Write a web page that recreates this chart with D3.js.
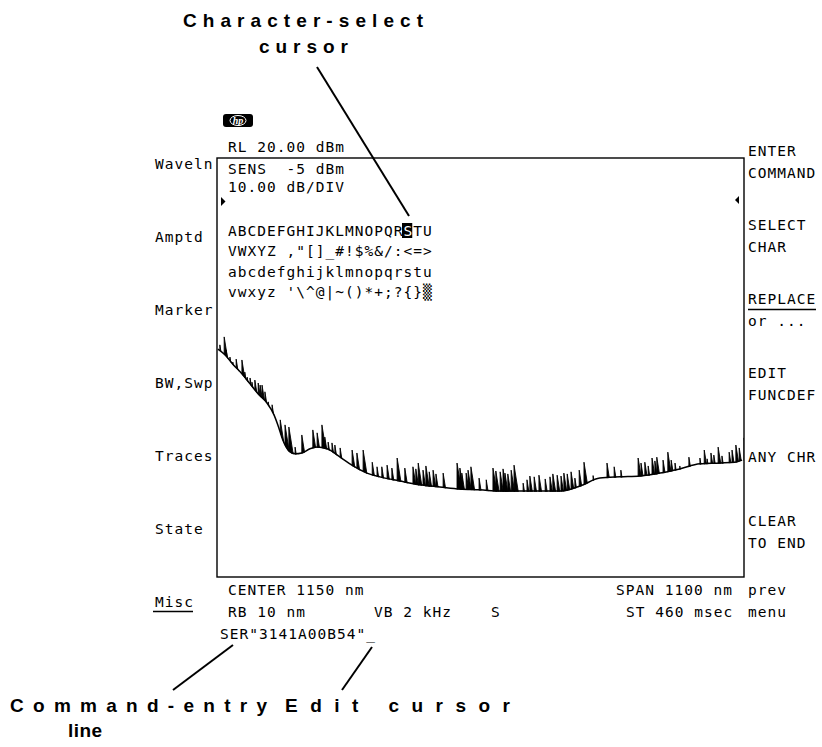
<!DOCTYPE html>
<html><head><meta charset="utf-8">
<script src="https://cdn.jsdelivr.net/npm/d3@7"></script>
<style>html,body{margin:0;padding:0;background:#fff;} svg{display:block;}</style>
</head><body>
<svg id="chart" width="822" height="747"></svg>
<script>
// ---------------- data ----------------
const headerLines = ["RL 20.00 dBm", "SENS  -5 dBm", "10.00 dB/DIV"];
const charRows = ["ABCDEFGHIJKLMNOPQRSTU", "VWXYZ ,\"[]_#!$%&/:<=>", "abcdefghijklmnopqrstu", "vwxyz '\\^@|~()*+;?{}\u2592"];
const selectedRow = 0, selectedCol = 18;
const leftSoftkeys = ["Waveln", "Amptd", "Marker", "BW,Swp", "Traces", "State", "Misc"];
const rightSoftkeys = [["ENTER", "COMMAND"], ["SELECT", "CHAR"], ["REPLACE", "or ..."], ["EDIT", "FUNCDEF"], ["ANY CHR"], ["CLEAR", "TO END"], ["prev", "menu"]];
const footerCenter = "CENTER 1150 nm";
const footerSpan = "SPAN 1100 nm";
const footerRB = "RB 10 nm";
const footerVB = "VB 2 kHz";
const footerS = "S";
const footerST = "ST 460 msec";
const commandLine = "SER\"3141A00B54\"_";
const annotTop = ["Character-select", "cursor"];
const annotCmd = ["Command-entry", "line"];
const annotEdit = "Edit cursor";

// wavelength axis (nm) and amplitude axis (dBm)
const xDomain = [600, 1700];   // CENTER 1150, SPAN 1100
const yDomain = [20, -80];     // RL 20 dBm, 10 dB/div

// trace floor (smooth part)
const floorWavelength = [602,617,633,652,669,686,704,719,727,738,750,763,777,794,809,830,857,884,913,940,982,1024,1065,1107,1149,1191,1232,1274,1316,1358,1399,1441,1483,1525,1566,1608,1650,1681,1696];
const floorLevel = [-25.6,-27.0,-29.2,-31.5,-33.9,-36.3,-38.4,-41.3,-43.7,-47.5,-49.9,-50.6,-50.4,-49.4,-49.0,-49.4,-51.4,-53.5,-55.2,-56.1,-57.1,-58.0,-58.5,-59.0,-59.2,-59.5,-59.5,-59.5,-59.5,-58.3,-56.4,-56.1,-55.9,-55.2,-54.2,-53.0,-52.8,-52.6,-52.1];

// noise spikes on the trace (wavelength nm, peak dBm)
const spikeWavelength = [606,615,619,627,633,640,644,652,658,663,669,673,679,686,690,694,700,707,715,732,742,750,763,777,800,809,819,825,832,840,846,857,882,892,905,924,934,944,955,965,976,992,1009,1015,1020,1030,1036,1043,1051,1057,1072,1101,1107,1111,1120,1124,1130,1147,1162,1176,1182,1191,1197,1201,1207,1214,1220,1239,1247,1253,1262,1272,1285,1295,1301,1310,1318,1324,1331,1339,1347,1356,1366,1385,1414,1429,1443,1479,1485,1493,1500,1508,1514,1518,1531,1541,1548,1556,1566,1585,1608,1617,1623,1631,1637,1646,1654,1669,1675,1683,1690,1700];
const spikeLevel = [-24.6,-22.7,-25.8,-27.5,-28.7,-28.0,-30.6,-28.2,-31.1,-32.3,-32.5,-33.5,-33.0,-33.7,-34.2,-34.2,-35.8,-38.2,-38.9,-42.5,-43.7,-44.2,-49.0,-46.1,-44.9,-45.6,-43.7,-46.6,-47.8,-48.0,-48.5,-49.2,-49.7,-50.4,-49.7,-52.6,-53.7,-53.7,-53.3,-54.0,-51.6,-54.0,-53.7,-54.2,-52.8,-54.5,-53.5,-54.9,-54.5,-55.4,-55.2,-52.8,-54.0,-55.2,-55.2,-54.5,-53.7,-56.4,-56.8,-54.0,-54.7,-54.9,-54.2,-55.2,-55.4,-54.5,-53.3,-57.6,-56.8,-55.9,-56.1,-55.7,-56.6,-56.1,-55.4,-55.7,-55.9,-55.2,-55.4,-54.9,-56.4,-54.5,-52.6,-55.8,-52.8,-53.7,-54.5,-51.6,-52.8,-52.6,-53.5,-51.6,-52.3,-51.4,-52.1,-50.2,-52.1,-52.8,-53.5,-51.4,-51.6,-49.7,-51.8,-50.4,-50.9,-49.0,-51.1,-50.2,-49.7,-48.5,-49.2,-46.8];

// ---------------- drawing ----------------
const svg = d3.select("#chart");
const frame = {x0: 217, x1: 744, y0: 158, y1: 577};
const x = d3.scaleLinear().domain(xDomain).range([frame.x0, frame.x1]);
const y = d3.scaleLinear().domain(yDomain).range([frame.y0, frame.y1]);

const FS = 14.5, PITCH = 9.75;
const LS = PITCH - 0.602 * FS;
const MONO = "'DejaVu Sans Mono', monospace";
function mono(str, px, py, color) {
  return svg.append("text").attr("x", px).attr("y", py)
    .attr("font-family", MONO).attr("font-size", FS)
    .attr("letter-spacing", LS.toFixed(2))
    .attr("fill", color || "#000")
    .style("white-space", "pre").text(str);
}
function sans(str, px, py, len) {
  return svg.append("text").attr("x", px).attr("y", py)
    .attr("font-family", "'Liberation Sans', Arial, sans-serif")
    .attr("font-size", 19).attr("font-weight", "bold")
    .attr("textLength", len).attr("lengthAdjust", "spacing")
    .attr("fill", "#000").text(str);
}

// frame
svg.append("rect").attr("x", frame.x0).attr("y", frame.y0)
  .attr("width", frame.x1 - frame.x0).attr("height", frame.y1 - frame.y0)
  .attr("fill", "none").attr("stroke", "#000").attr("stroke-width", 1.4);

// hp logo
const logo = svg.append("g");
logo.append("rect").attr("x", 223).attr("y", 114).attr("width", 30).attr("height", 13).attr("rx", 3).attr("fill", "#000");
logo.append("ellipse").attr("cx", 238).attr("cy", 120.5).attr("rx", 8).attr("ry", 5).attr("fill", "none").attr("stroke", "#fff").attr("stroke-width", 1);
logo.append("text").attr("x", 238).attr("y", 124).attr("text-anchor", "middle")
  .attr("font-family", "'Liberation Serif', serif").attr("font-style", "italic").attr("font-weight", "bold")
  .attr("font-size", 10).attr("fill", "#fff").text("hp");

// header
const headerY = [152, 174, 192];
headerLines.forEach((t, i) => mono(t, 228, headerY[i]));

// reference markers
svg.append("path").attr("d", "M221,197 L225.5,201.5 L221,206 Z").attr("fill", "#000");
svg.append("path").attr("d", "M739,196 L735,200 L739,204 Z").attr("fill", "#000");

// character grid (selected char highlighted as inverse video)
const rowY = [236, 256, 277, 297];
const selX = 228 + selectedCol * PITCH;
svg.append("rect").attr("x", selX - 1.5).attr("y", rowY[selectedRow] - 13).attr("width", PITCH + 0.5).attr("height", 15).attr("fill", "#000");
charRows.forEach((t, i) => {
  if (i !== selectedRow) { mono(t, 228, rowY[i]); return; }
  const el = mono("", 228, rowY[i]);
  el.append("tspan").text(t.slice(0, selectedCol));
  el.append("tspan").attr("fill", "#fff").text(t[selectedCol]);
  el.append("tspan").text(t.slice(selectedCol + 1));
});

// trace
const floorData = floorWavelength.map((w, i) => ({w, v: floorLevel[i]}));
const spikeData = spikeWavelength.map((w, i) => ({w, v: spikeLevel[i]}));
const defs = svg.append("defs");
defs.append("clipPath").attr("id", "frameClip").append("rect")
  .attr("x", frame.x0).attr("y", frame.y0).attr("width", frame.x1 - frame.x0).attr("height", frame.y1 - frame.y0);
const areaAbove = d3.area().x(d => x(d.w)).y0(frame.y0).y1(d => y(d.v) + 0.6).curve(d3.curveMonotoneX);
const extFloor = [{w: xDomain[0], v: floorData[0].v}].concat(floorData, [{w: xDomain[1] + 5, v: floorData[floorData.length - 1].v}]);
defs.append("clipPath").attr("id", "aboveFloor").append("path").attr("d", areaAbove(extFloor));

const traceG = svg.append("g").attr("clip-path", "url(#frameClip)");
const spikeG = traceG.append("g").attr("clip-path", "url(#aboveFloor)");
const H = 50, W = 8;
spikeG.selectAll("path.spike").data(spikeData).join("path").attr("class", "spike")
  .attr("d", d => {
    const px = x(d.w), py = y(d.v);
    return `M${px},${py + H} L${px},${py} L${px + W},${py + H} Z`;
  })
  .attr("fill", "#000").attr("stroke", "#000").attr("stroke-width", 0.9).attr("stroke-linejoin", "miter");
traceG.append("path").datum(floorData)
  .attr("d", d3.line().x(d => x(d.w)).y(d => y(d.v)).curve(d3.curveMonotoneX))
  .attr("fill", "none").attr("stroke", "#000").attr("stroke-width", 1.5);

// softkeys left
leftSoftkeys.forEach((t, i) => mono(t, 155, 169 + 73 * i));
svg.append("line").attr("x1", 153).attr("x2", 193).attr("y1", 611.5).attr("y2", 611.5).attr("stroke", "#000").attr("stroke-width", 1.3);

// softkeys right
const rightY = [156, 230, 304, 378, 462, 526, 595];
rightSoftkeys.forEach((lines, i) => lines.forEach((t, j) => mono(t, 748, rightY[i] + 22 * j)));
svg.append("line").attr("x1", 748).attr("x2", 816).attr("y1", 309.5).attr("y2", 309.5).attr("stroke", "#000").attr("stroke-width", 1.3);

// footer
mono(footerCenter, 228, 595);
mono(footerSpan, 616, 595);
mono(footerRB, 228, 617);
mono(footerVB, 374, 617);
mono(footerS, 491, 617);
mono(footerST, 626, 617);
mono(commandLine, 220, 639);

// annotations
sans(annotTop[0], 183, 27, 240);
sans(annotTop[1], 259, 53, 89);
sans(annotCmd[0], 10, 712, 257);
sans(annotCmd[1], 68, 737, 34);
sans(annotEdit, 285, 712, 225);

const leader = [[317, 67, 409, 216], [233, 645, 173, 690], [372, 647, 342, 690]];
leader.forEach(l => svg.append("line").attr("x1", l[0]).attr("y1", l[1]).attr("x2", l[2]).attr("y2", l[3])
  .attr("stroke", "#000").attr("stroke-width", 2));
</script>
</body></html>
